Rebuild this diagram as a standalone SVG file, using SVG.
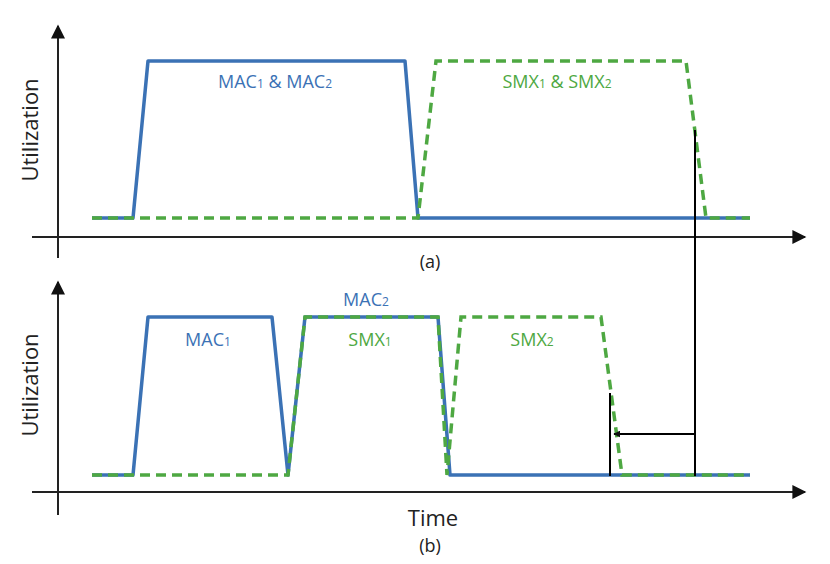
<svg xmlns="http://www.w3.org/2000/svg" width="830" height="564" viewBox="0 0 830 564">
<style>
.ax{stroke:#222;stroke-width:2;fill:none}
.b{stroke:#3b72b5;stroke-width:3.5;fill:none;stroke-linejoin:round}
.g{stroke:#4ea842;stroke-width:3.5;fill:none;stroke-dasharray:10 6}
.k{stroke:#000;stroke-width:2;fill:none}
text{font-family:"Open Sans","Liberation Sans",sans-serif}
.bl{fill:#3b72b5;font-size:18px}
.gl{fill:#4ea842;font-size:18px}
.lab{fill:#222;font-size:18px}
</style>
<defs>
<marker id="ah" viewBox="0 0 10 10" refX="9" refY="5" markerWidth="7" markerHeight="7" orient="auto" markerUnits="userSpaceOnUse"><path d="M0,0L10,5L0,10z" fill="#111"/></marker>
<marker id="ax" viewBox="0 0 10 10" refX="9" refY="5" markerWidth="20" markerHeight="14" orient="auto" markerUnits="userSpaceOnUse"><path d="M0,0L10,5L0,10z" fill="#111"/></marker>
</defs>
<g id="axes">
<path class="ax" d="M58,258V26" marker-end="url(#ax)"/>
<path class="ax" d="M32,237H805" marker-end="url(#ax)"/>
<path class="ax" d="M58,515V282" marker-end="url(#ax)"/>
<path class="ax" d="M32,492H805" marker-end="url(#ax)"/>
</g>
<g id="connectors">
<path class="b" d="M92,218H133L148,61H405L418,218H750"/>
<path class="g" d="M92,218H418L436,61H686L706,218H750"/>
<path class="b" d="M92,475H133L148,317H272L288,475L305,317H438L450,475H750"/>
<path class="g" d="M92,475H288L305,317H438L447,475L461,317H601L622,475H750"/>
<path class="k" d="M695,130V476"/>
<path class="k" d="M610,393V476"/>
<path class="k" d="M695,434H614" marker-end="url(#ah)"/>
</g>
<g id="labels">
<text class="lab" x="38" y="130" text-anchor="middle" transform="rotate(-90 38 130)" font-size="22" style="font-size:22px">Utilization</text>
<text class="lab" x="38" y="385" text-anchor="middle" transform="rotate(-90 38 385)" style="font-size:22px">Utilization</text>
<text class="bl" x="275" y="88" text-anchor="middle">MAC<tspan font-size="12">1</tspan> &amp; MAC<tspan font-size="12">2</tspan></text>
<text class="gl" x="557" y="88" text-anchor="middle">SMX<tspan font-size="12">1</tspan> &amp; SMX<tspan font-size="12">2</tspan></text>
<text class="bl" x="366" y="306" text-anchor="middle">MAC<tspan font-size="12">2</tspan></text>
<text class="bl" x="208" y="346" text-anchor="middle">MAC<tspan font-size="12">1</tspan></text>
<text class="gl" x="370" y="346" text-anchor="middle">SMX<tspan font-size="12">1</tspan></text>
<text class="gl" x="532" y="346" text-anchor="middle">SMX<tspan font-size="12">2</tspan></text>
<text class="lab" x="430" y="268" text-anchor="middle">(a)</text>
<text class="lab" x="433" y="526" text-anchor="middle" style="font-size:22px">Time</text>
<text class="lab" x="430" y="552" text-anchor="middle">(b)</text>
</g>
</svg>
